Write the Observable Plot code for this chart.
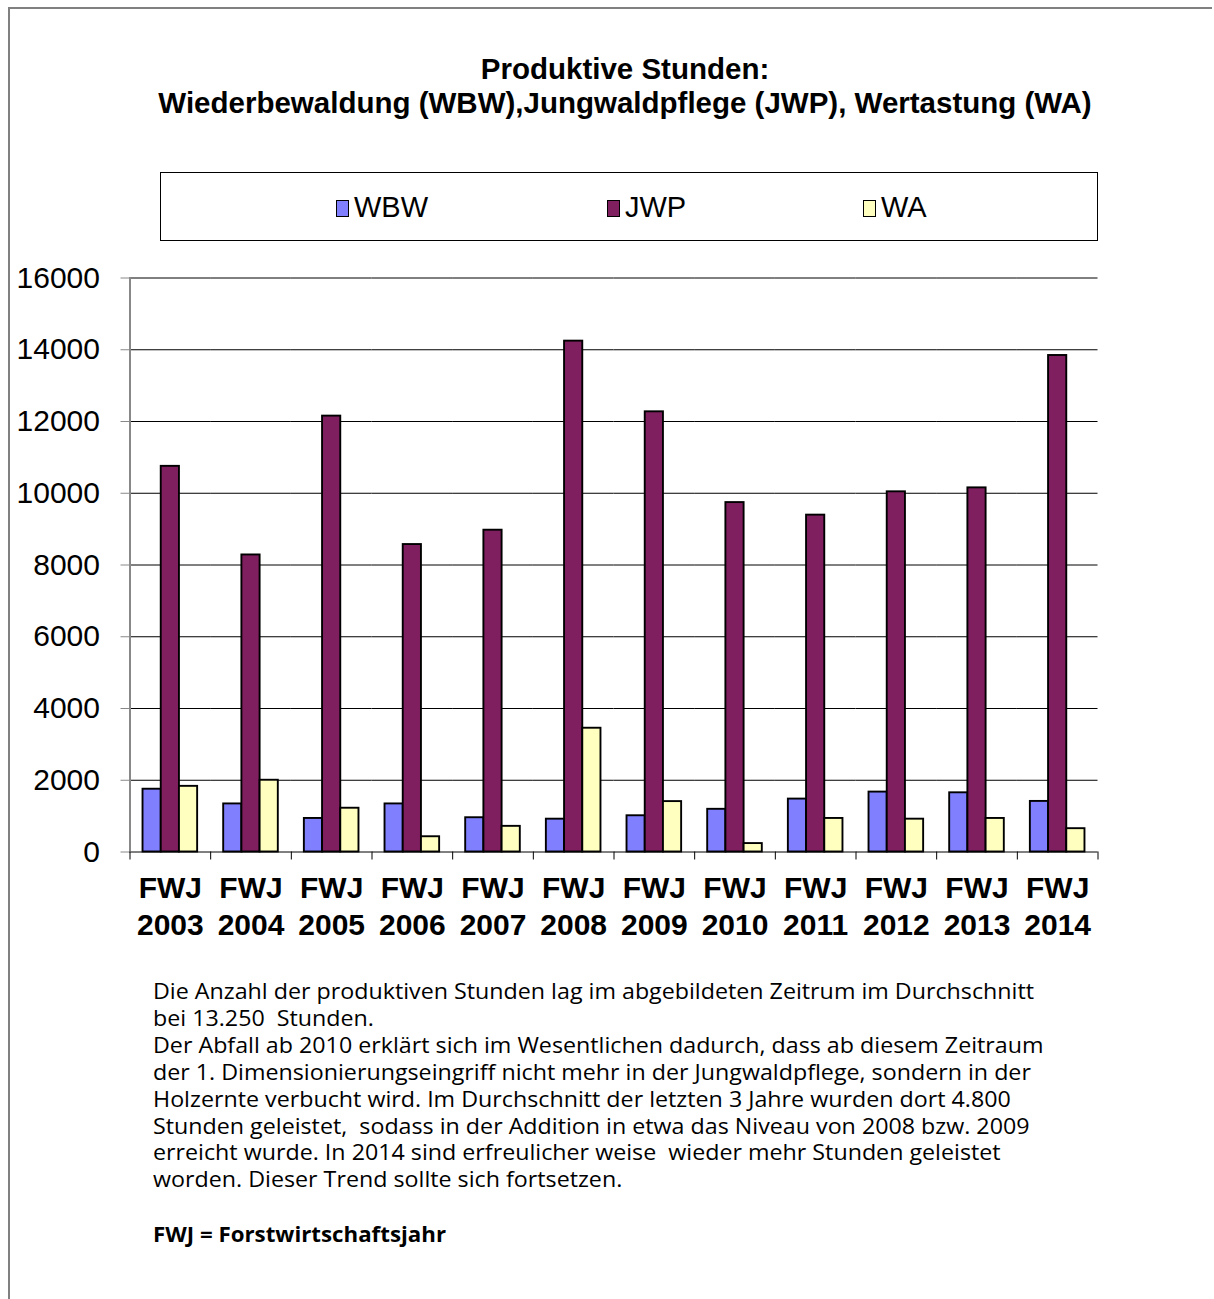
<!DOCTYPE html>
<html>
<head>
<meta charset="utf-8">
<script src="https://cdn.jsdelivr.net/npm/d3@7"></script>
<script src="https://cdn.jsdelivr.net/npm/@observablehq/plot@0.6"></script>
<style>
  html, body { margin: 0; padding: 0; background: #fff; }
  #page { position: relative; width: 1214px; height: 1299px; overflow: hidden; font-family: "Liberation Sans", Arial, sans-serif; }
  #borderTop { position: absolute; left: 8px; top: 7px; width: 1204px; height: 2px; background: #808080; }
  #borderLeft { position: absolute; left: 8px; top: 7px; width: 2px; height: 1300px; background: #808080; }
  #title { position: absolute; left: 0; width: 1250px; top: 52px; text-align: center; font-weight: bold; font-size: 29.5px; line-height: 34px; color: #000; }
  #legend { position: absolute; left: 160px; top: 172px; width: 938px; height: 69px; border: 1px solid #000; box-sizing: border-box; }
  .li { position: absolute; top: 0; height: 68px; display: flex; align-items: center; font-size: 29px; color: #000; }
  .sw { width: 11px; height: 15px; border: 1.5px solid #000; margin-right: 5px; margin-top: 2px; }
  #chart { position: absolute; left: 0; top: 260px; }
  #caption { position: absolute; left: 153px; top: 978px; font-family: "Open Sans", sans-serif; font-size: 21px; line-height: 26.9px; color: #000; white-space: pre; transform-origin: 0 0; }
  #foot { position: absolute; left: 153px; top: 1220px; font-family: "Open Sans", sans-serif; font-weight: bold; font-size: 21px; color: #000; white-space: pre; transform-origin: 0 0; }
</style>
</head>
<body>
<div id="page">
  <div id="borderTop"></div>
  <div id="borderLeft"></div>
  <div id="title">Produktive Stunden:<br>Wiederbewaldung (WBW),Jungwaldpflege (JWP), Wertastung (WA)</div>
  <div id="legend"></div>
  <div id="chart"></div>
  <div id="caption"></div>
  <div id="foot"></div>
</div>
<script>
// ---- Data ----
const years = ["2003","2004","2005","2006","2007","2008","2009","2010","2011","2012","2013","2014"];
const seriesNames = ["WBW","JWP","WA"];
const seriesColors = ["#8080FF","#7F1F5F","#FFFFC0"];
const wbw = [1750, 1340, 935, 1340, 955, 915, 1010, 1190, 1475, 1670, 1650, 1410];
const jwp = [10750, 8280, 12150, 8570, 8970, 14240, 12270, 9740, 9390, 10040, 10150, 13840];
const wa  = [1830, 2000, 1220, 425, 715, 3450, 1405, 235, 935, 915, 935, 650];
const yTicks = [0, 2000, 4000, 6000, 8000, 10000, 12000, 14000, 16000];
const captionLines = [
  "Die Anzahl der produktiven Stunden lag im abgebildeten Zeitrum im Durchschnitt",
  "bei 13.250  Stunden.",
  "Der Abfall ab 2010 erklärt sich im Wesentlichen dadurch, dass ab diesem Zeitraum",
  "der 1. Dimensionierungseingriff nicht mehr in der Jungwaldpflege, sondern in der",
  "Holzernte verbucht wird. Im Durchschnitt der letzten 3 Jahre wurden dort 4.800",
  "Stunden geleistet,  sodass in der Addition in etwa das Niveau von 2008 bzw. 2009",
  "erreicht wurde. In 2014 sind erfreulicher weise  wieder mehr Stunden geleistet",
  "worden. Dieser Trend sollte sich fortsetzen."
];
const footText = "FWJ = Forstwirtschaftsjahr";

// ---- Table ----
const valuesBySeries = {WBW: wbw, JWP: jwp, WA: wa};
const table = years.flatMap((yr, i) => seriesNames.map(s => ({year: yr, series: s, value: valuesBySeries[s][i]})));

// ---- Legend ----
const legend = document.getElementById("legend");
const legendX = [175, 446, 702];
seriesNames.forEach((s, i) => {
  const d = document.createElement("div");
  d.className = "li";
  d.style.left = legendX[i] + "px";
  const sw = document.createElement("div");
  sw.className = "sw";
  sw.style.background = seriesColors[i];
  d.appendChild(sw);
  d.appendChild(document.createTextNode(s));
  legend.appendChild(d);
});

// ---- Chart ----
const W = 1120, H = 720, mL = 129.5, mR = 22.5, mT = 17.5, mB = 128.5;
const pIn = 0.323, pOut = pIn / 2;
const step = (W - mL - mR) / years.length;
const pad = step * pOut; // half gap between facet bands

const chart = Plot.plot({
  width: W, height: H,
  marginLeft: mL, marginRight: mR, marginTop: mT, marginBottom: mB,
  style: {fontFamily: "'Liberation Sans', Arial, sans-serif", background: "transparent", overflow: "visible"},
  fx: {domain: years, paddingInner: pIn, paddingOuter: pOut, round: false, axis: null, label: null},
  x: {domain: seriesNames, padding: 0, round: false, axis: null},
  y: {domain: [0, 16000], axis: null},
  color: {domain: seriesNames, range: seriesColors},
  marks: [
    Plot.ruleY(yTicks, {stroke: "#000", strokeWidth: 1, insetLeft: -pad, insetRight: -pad}),
    Plot.barY(table, {fx: "year", x: "series", y: "value", fill: "series", stroke: "black", strokeWidth: 1.9}),
    Plot.axisY({ticks: yTicks, tickSize: 9, tickPadding: 21, fontSize: 30, stroke: "#888", fill: "#000", dx: -pad, tickFormat: d => String(d), label: null}),
    Plot.frame({anchor: "left", facetAnchor: "left", dx: -pad, stroke: "#888", strokeWidth: 2}),
    Plot.axisFx({anchor: "bottom", tickSize: 0, tickPadding: 20, fontSize: 30, fontWeight: "bold", lineHeight: 1.23, fill: "#000", tickFormat: d => `FWJ\n${d}`, label: null}),
    Plot.axisFx({anchor: "bottom", tickSize: 8, tickFormat: () => "", dx: -step / 2, stroke: "#000", label: null}),
    Plot.axisFx({anchor: "bottom", ticks: [years[years.length - 1]], tickSize: 8, tickFormat: () => "", dx: step / 2, stroke: "#000", label: null})
  ]
});
document.getElementById("chart").appendChild(chart);

// ---- Caption ----
const cap = document.getElementById("caption");
cap.textContent = captionLines.join("\n");
const foot = document.getElementById("foot");
foot.textContent = footText;
// fit caption widths to reference
const cv = document.createElement("canvas").getContext("2d");
cv.font = "21px 'Open Sans'";
const k = 881 / cv.measureText(captionLines[0]).width;
cap.style.transform = `scaleX(${k})`;
cv.font = "bold 21px 'Open Sans'";
const kf = 293 / cv.measureText(footText).width;
foot.style.transform = `scaleX(${kf})`;
</script>
</body>
</html>
